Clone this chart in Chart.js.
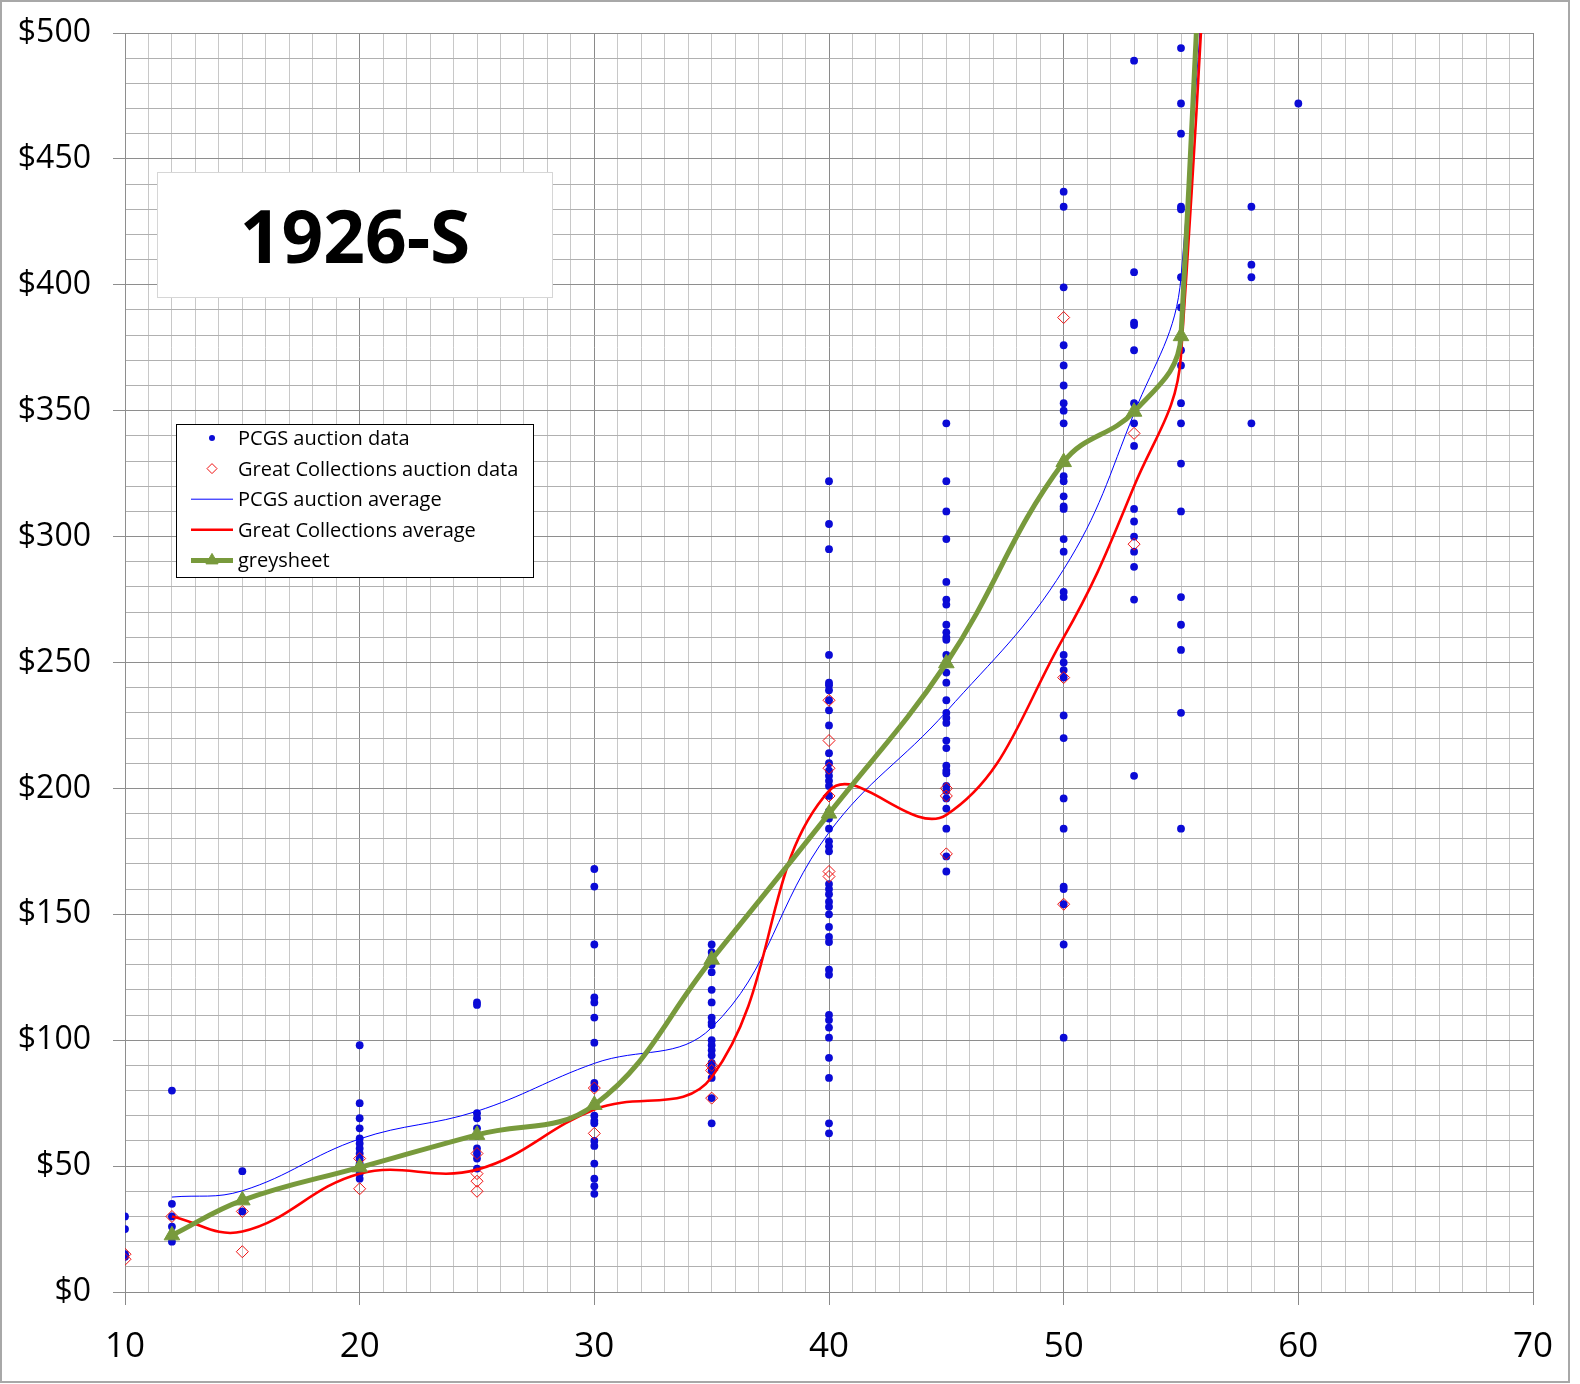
<!DOCTYPE html>
<html>
<head>
<meta charset="utf-8">
<script src="https://cdn.jsdelivr.net/npm/chart.js@4.4.1/dist/chart.umd.min.js"></script>
<style>
html, body { margin: 0; padding: 0; background: #ffffff; }
canvas { display: block; }
</style>
</head>
<body>
<canvas id="chart" width="1580" height="1384"></canvas>
<script>
// ---------- DATA ----------
const chartTitle = '1926-S';

// PCGS auction data: prices by grade
const pcgs10 = [30, 25, 15, 14];
const pcgs12 = [80, 35, 30, 26, 20];
const pcgs15 = [48, 32];
const pcgs20 = [98, 75, 69, 65, 61, 59, 57, 55, 53, 51, 49, 47, 45];
const pcgs25 = [115, 114, 71, 69, 65, 62, 57, 55, 53, 49];
const pcgs30 = [168, 161, 138, 117, 115, 109, 99, 83, 81, 70, 68, 67, 60, 58, 51, 45, 42, 39];
const pcgs35 = [138, 135, 133, 130, 127, 120, 115, 109, 107, 106, 100, 98, 96, 94, 91, 90, 88, 85, 77, 67];
const pcgs40 = [322, 305, 295, 253, 242, 241, 239, 235, 231, 225, 214, 210, 207, 205, 203, 201, 197, 191, 188, 184, 179, 177, 175, 162, 160, 158, 155, 153, 150, 145, 141, 139, 128, 126, 110, 108, 105, 101, 93, 85, 67, 63];
const pcgs45 = [345, 322, 310, 299, 282, 275, 273, 265, 262, 260, 259, 253, 246, 242, 235, 230, 228, 226, 219, 216, 209, 207, 206, 201, 199, 196, 192, 184, 173, 167];
const pcgs50 = [437, 431, 399, 376, 368, 360, 353, 350, 345, 324, 322, 316, 312, 311, 299, 294, 278, 276, 253, 250, 247, 244, 229, 220, 196, 184, 161, 160, 154, 138, 101];
const pcgs53 = [489, 405, 385, 384, 374, 353, 345, 336, 311, 306, 300, 294, 288, 275, 205];
const pcgs55 = [494, 472, 460, 431, 430, 403, 391, 374, 368, 353, 345, 329, 310, 276, 265, 255, 230, 184];
const pcgs58 = [431, 408, 403, 345];
const pcgs60 = [472];

// Great Collections auction data: prices by grade
const gc10 = [15, 13];
const gc12 = [30];
const gc15 = [32, 16];
const gc20 = [53, 41];
const gc25 = [55, 47, 44, 40];
const gc30 = [81, 63];
const gc35 = [90, 88, 77];
const gc40 = [235, 219, 208, 197, 167, 165];
const gc45 = [200, 197, 174];
const gc50 = [387, 244, 154];
const gc53 = [341, 297];

// Averages and greysheet (last point lies above the visible range)
const avgGrades = [12, 15, 20, 25, 30, 35, 40, 45, 50, 53, 55, 58];
const pcgsAverage = [37.7, 40.2, 60.8, 71.8, 90.8, 105, 182.5, 230.5, 287, 349, 403, 900];
const gcAverage = [30, 24, 47, 48.6, 72.5, 85.3, 199, 189.5, 260, 320, 372, 1000];
const greysheet = [22.5, 36.4, 49.5, 62.4, 74.3, 132, 190, 249.7, 329.6, 349.6, 379.6, 1200];

// Axis tick labels
const xTickLabels = [10, 20, 30, 40, 50, 60, 70];
const yTickLabels = ['$0', '$50', '$100', '$150', '$200', '$250', '$300', '$350', '$400', '$450', '$500'];

const seriesNames = ['PCGS auction data', 'Great Collections auction data', 'PCGS auction average', 'Great Collections average', 'greysheet'];

// ---------- BUILD ----------
const pcgsByGrade = [[10, pcgs10], [12, pcgs12], [15, pcgs15], [20, pcgs20], [25, pcgs25], [30, pcgs30], [35, pcgs35], [40, pcgs40], [45, pcgs45], [50, pcgs50], [53, pcgs53], [55, pcgs55], [58, pcgs58], [60, pcgs60]];
const gcByGrade = [[10, gc10], [12, gc12], [15, gc15], [20, gc20], [25, gc25], [30, gc30], [35, gc35], [40, gc40], [45, gc45], [50, gc50], [53, gc53]];
const flatten = list => list.flatMap(([g, vals]) => vals.map(v => ({ x: g, y: v })));
const pairs = (xs, ys) => xs.map((x, i) => ({ x: x, y: ys[i] }));

const FONT = '"Open Sans", "Noto Sans", sans-serif';
const GREEN = '#789a3c';

const datasets = [
  { label: seriesNames[0], data: flatten(pcgsByGrade), showLine: false, order: 5,
    pointStyle: 'circle', pointRadius: 3.9, pointBackgroundColor: '#0b0bd6', pointBorderColor: '#0b0bd6', pointBorderWidth: 0 },
  { label: seriesNames[1], data: flatten(gcByGrade), showLine: false, order: 4,
    pointStyle: 'rectRot', pointRadius: 6, pointBackgroundColor: 'rgba(0,0,0,0)', pointBorderColor: '#f01010', pointBorderWidth: 1 },
  { label: seriesNames[2], data: pairs(avgGrades, pcgsAverage), showLine: true, order: 3,
    borderColor: '#0000ff', borderWidth: 1, pointRadius: 0, tension: 0.4 },
  { label: seriesNames[3], data: pairs(avgGrades, gcAverage), showLine: true, order: 2,
    borderColor: '#ff0000', borderWidth: 2.6, pointRadius: 0, tension: 0.4 },
  { label: seriesNames[4], data: pairs(avgGrades, greysheet), showLine: true, order: 1,
    borderColor: GREEN, borderWidth: 5, tension: 0.4,
    pointStyle: 'triangle', pointRadius: 9, pointBackgroundColor: GREEN, pointBorderColor: GREEN, pointBorderWidth: 1 }
];

const MAJOR_X = '#8a8a8a', MINOR_X = '#c8c8c8';
const MAJOR_Y = '#8e8e8e', MINOR_Y = '#b0b0b0';

const decorPlugin = {
  id: 'decor',
  beforeDraw(chart) {
    const c = chart.ctx;
    c.save();
    c.fillStyle = '#ffffff';
    c.fillRect(0, 0, chart.width, chart.height);
    c.restore();
  },
  afterDraw(chart) {
    const c = chart.ctx;
    c.save();
    // Title box
    c.fillStyle = '#ffffff';
    c.fillRect(157, 172, 395, 125);
    c.strokeStyle = '#d6d6d6';
    c.lineWidth = 1;
    c.strokeRect(157.5, 172.5, 395, 125);
    c.fillStyle = '#000000';
    c.font = 'bold 73px ' + FONT;
    c.textAlign = 'center';
    c.textBaseline = 'alphabetic';
    c.fillText(chartTitle, 355, 263);

    // Legend box
    c.fillStyle = '#ffffff';
    c.fillRect(176, 424, 357, 153);
    c.strokeStyle = '#000000';
    c.lineWidth = 1;
    c.strokeRect(176.5, 424.5, 357, 153);
    c.font = '20px ' + FONT;
    c.textAlign = 'left';
    const ds = chart.data.datasets;
    for (let i = 0; i < ds.length; i++) {
      const d = ds[i];
      const base = 445 + i * 30.6;
      const cy = base - 7;
      if (d.showLine) {
        c.strokeStyle = d.borderColor;
        c.lineWidth = d.borderWidth;
        c.beginPath();
        c.moveTo(191, cy);
        c.lineTo(233, cy);
        c.stroke();
      }
      if (d.pointRadius > 0) {
        c.fillStyle = d.pointBackgroundColor;
        c.strokeStyle = d.pointBorderColor;
        c.lineWidth = d.pointBorderWidth;
        Chart.helpers.drawPoint(c, { pointStyle: d.pointStyle, radius: d.pointStyle === 'circle' ? 3 : (d.pointStyle === 'triangle' ? 7 : 5), borderWidth: d.pointBorderWidth, rotation: 0 }, 212, cy);
      }
      c.fillStyle = '#000000';
      c.fillText(d.label, 238, base);
    }

    // Outer frame
    c.strokeStyle = '#a8a8a8';
    c.lineWidth = 2;
    c.strokeRect(1, 1, 1568, 1381);
    c.restore();
  }
};

function build() {
  new Chart(document.getElementById('chart'), {
    type: 'scatter',
    data: { datasets: datasets },
    plugins: [decorPlugin],
    options: {
      responsive: false,
      devicePixelRatio: 1,
      animation: false,
      layout: { padding: { top: 33, right: 47, bottom: 0, left: 0 } },
      elements: { line: { capBezierPoints: false } },
      plugins: { legend: { display: false }, tooltip: { enabled: false }, title: { display: false } },
      scales: {
        x: {
          type: 'linear', min: 10, max: 70,
          afterFit(scale) { scale.height = 92; scale.paddingLeft = 0; scale.paddingRight = 0; },
          border: { display: true, color: MAJOR_X, width: 1 },
          grid: {
            lineWidth: 1, tickLength: 13, drawTicks: true,
            color: ctx => (ctx.tick && ctx.tick.value % 10 === 0) ? MAJOR_X : MINOR_X,
            tickColor: ctx => (ctx.tick && ctx.tick.value % 10 === 0) ? MAJOR_X : 'rgba(0,0,0,0)'
          },
          ticks: {
            stepSize: 1, autoSkip: false, maxRotation: 0, minRotation: 0, padding: 21,
            color: '#000000', font: { family: FONT, size: 35 },
            callback: v => xTickLabels.includes(v) ? String(v) : ''
          }
        },
        y: {
          type: 'linear', min: 0, max: 500,
          afterFit(scale) { scale.width = 125; scale.paddingTop = 0; scale.paddingBottom = 0; },
          border: { display: true, color: MAJOR_Y, width: 1 },
          grid: {
            lineWidth: 1, tickLength: 12, drawTicks: true,
            color: ctx => (ctx.tick && ctx.tick.value % 50 === 0) ? MAJOR_Y : MINOR_Y,
            tickColor: ctx => (ctx.tick && ctx.tick.value % 50 === 0) ? MAJOR_Y : 'rgba(0,0,0,0)'
          },
          ticks: {
            stepSize: 10, autoSkip: false, padding: 22,
            color: '#000000', font: { family: FONT, size: 32 },
            callback: v => (v % 50 === 0) ? yTickLabels[v / 50] : ''
          }
        }
      }
    }
  });
}

const fontLoads = ['32px "Open Sans"', 'bold 73px "Open Sans"', '20px "Open Sans"'].map(f => document.fonts.load(f).catch(() => null));
Promise.all(fontLoads).then(build, build);
</script>
</body>
</html>
